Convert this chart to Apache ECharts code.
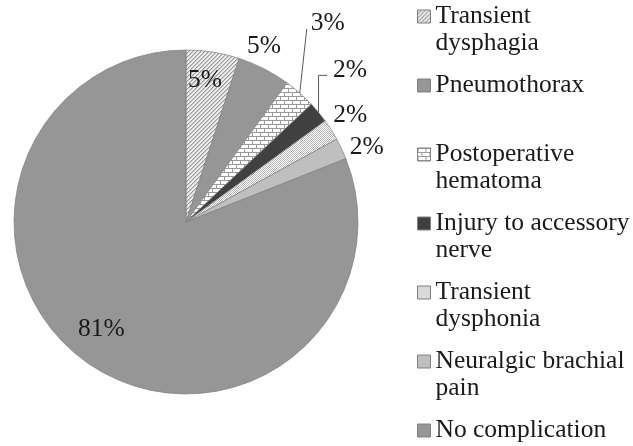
<!DOCTYPE html>
<html><head><meta charset="utf-8">
<script src="https://cdn.jsdelivr.net/npm/echarts@6/dist/echarts.min.js"></script>
<style>html,body{margin:0;padding:0;background:#fff}#c{width:633px;height:446px}</style>
</head><body><div id="c"></div>
<script>
// ---- data ----
const categories = ['Transient dysphagia', 'Pneumothorax', 'Postoperative hematoma', 'Injury to accessory nerve', 'Transient dysphonia', 'Neuralgic brachial pain', 'No complication'];
const values = [5, 5, 3, 2, 2, 2, 81];
const legendText = ['Transient\ndysphagia', 'Pneumothorax', 'Postoperative\nhematoma', 'Injury to accessory\nnerve', 'Transient\ndysphonia', 'Neuralgic brachial\npain', 'No complication'];

// ---- styles ----
function makeTile(w, h, bg, draw) {
  const c = document.createElement('canvas'); c.width = w; c.height = h;
  const g = c.getContext('2d'); g.fillStyle = bg; g.fillRect(0, 0, w, h); draw(g); return c;
}
const hatch = makeTile(4, 4, '#eeeeee', g => {
  g.fillStyle = '#9a9a9a'; for (let i = 0; i < 4; i++) g.fillRect(i, 3 - i, 1, 1);
  g.fillStyle = '#c6c6c6'; for (let i = 0; i < 4; i++) g.fillRect((i + 1) % 4, 3 - i, 1, 1);
});
const bricks = makeTile(8, 8, '#ffffff', g => {
  g.fillStyle = '#9a9a9a';
  g.fillRect(0, 0, 8, 1); g.fillRect(0, 4, 8, 1); g.fillRect(0, 1, 1, 3); g.fillRect(4, 5, 1, 3);
});
const dots = makeTile(2, 2, '#ffffff', g => {
  g.fillStyle = '#b4b4b4'; g.fillRect(0, 0, 1, 1); g.fillRect(1, 1, 1, 1);
});
const sliceFill = [
  { image: hatch, repeat: 'repeat' }, '#969696', { image: bricks, repeat: 'repeat' },
  '#404040', { image: dots, repeat: 'repeat' }, '#bfbfbf', '#969696'
];
// label centre offset from the slice's outer-edge midpoint
const labelOffset = [[-8, 28], [0, -22], [28, -70], [31.5, -42], [19, -15], [25, -1], [12, -35]];
const leader = [null, null, [[7, -64], [7, -64]], [[0, -37], [8.5, -37]], null, null, null];

const FONT = '"Liberation Serif", "Times New Roman", serif';
const FS = 25.5;
const LH = 27;

// Every legend entry occupies three text lines so that its first visible line sits beside the icon
function legendBlock(t) {
  return t.indexOf('\n') >= 0 ? '\n' + t : '\n' + t + '\n';
}

const chart = echarts.init(document.getElementById('c'), null, { renderer: 'canvas' });
chart.setOption({
  animation: false,
  backgroundColor: '#ffffff',
  legend: {
    type: 'plain',
    orient: 'vertical',
    left: 417,
    top: -24,
    height: 700,
    padding: 0,
    itemGap: -12,
    itemWidth: 13,
    itemHeight: 13,
    icon: 'rect',
    selectedMode: false,
    itemStyle: { borderColor: '#808080', borderWidth: 1 },
    textStyle: { fontFamily: FONT, fontSize: FS, color: '#1a1a1a', lineHeight: LH },
    data: categories,
    formatter: name => legendBlock(legendText[categories.indexOf(name)])
  },
  series: [{
    type: 'pie',
    center: [186, 222],
    radius: 172,
    startAngle: 90,
    clockwise: true,
    avoidLabelOverlap: false,
    data: categories.map((n, i) => ({ name: n, value: values[i], itemStyle: { color: sliceFill[i] } })),
    itemStyle: { borderColor: '#808080', borderWidth: 0.7 },
    label: {
      show: true,
      position: 'outside',
      formatter: '{d}%',
      fontFamily: FONT,
      fontSize: FS,
      color: '#1a1a1a'
    },
    labelLine: { show: true, length: 10, length2: 5, lineStyle: { color: '#595959', width: 1 } },
    labelLayout: function (params) {
      const pts = params.labelLinePoints;
      if (!pts) return {};
      const e = pts[0];
      const i = params.dataIndex;
      const o = labelOffset[i];
      const L = leader[i];
      return {
        x: e[0] + o[0], y: e[1] + o[1], align: 'center', verticalAlign: 'middle',
        labelLinePoints: L
          ? [[e[0], e[1]], [e[0] + L[0][0], e[1] + L[0][1]], [e[0] + L[1][0], e[1] + L[1][1]]]
          : [[e[0], e[1]], [e[0], e[1]], [e[0], e[1]]]
      };
    },
    emphasis: { disabled: true }
  }]
});
</script></body></html>
